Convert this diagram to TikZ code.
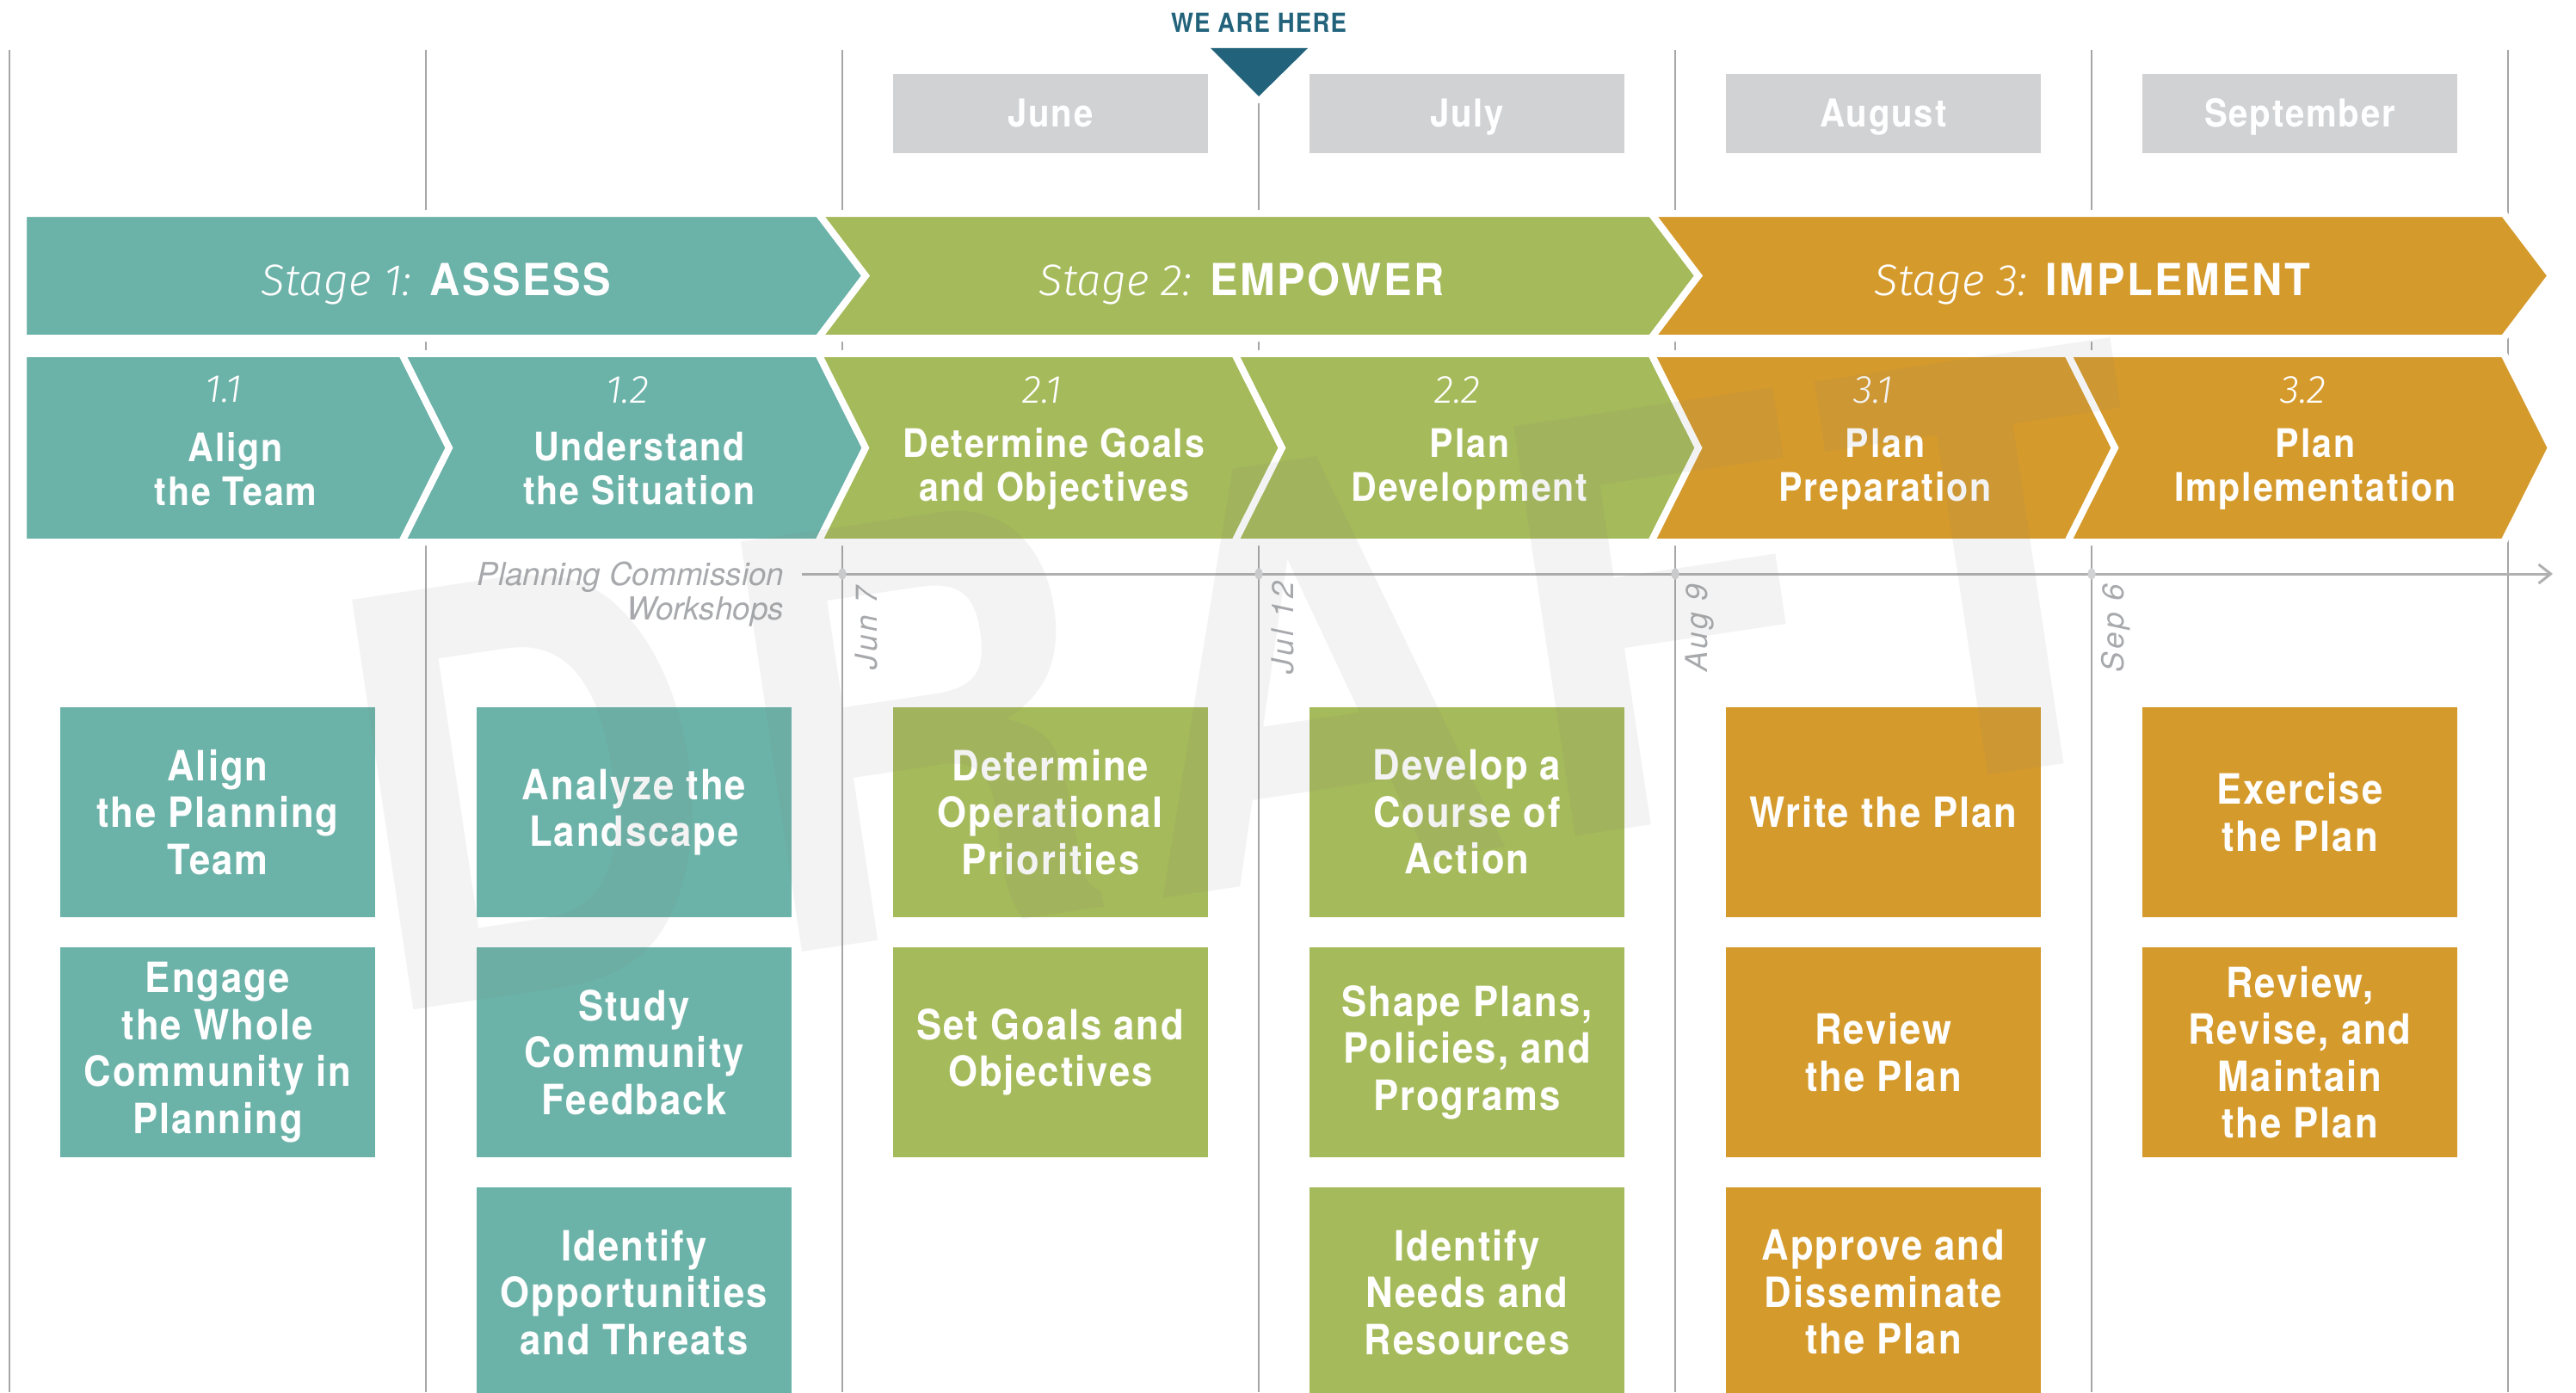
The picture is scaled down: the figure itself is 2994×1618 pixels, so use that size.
\documentclass[tikz,border=0pt]{standalone}
\usepackage{fontspec}
\usepackage{xcolor}
\setmainfont{TeX Gyre Heros}
\newfontfamily\condfont{TeX Gyre Heros}[FakeStretch=0.9, LetterSpace=4.0]
\newfontfamily\stagefont{TeX Gyre Heros}[FakeStretch=0.95, LetterSpace=5.0]
\newfontfamily\datefont{TeX Gyre Heros}[LetterSpace=10.0]
\newfontfamily\lightfont{Fira Sans}[UprightFont=* Light, ItalicFont=* Light Italic]
\usetikzlibrary{arrows.meta, shapes.geometric, positioning}

\definecolor{assess}{HTML}{6BB2A8}
\definecolor{empower}{HTML}{A5BA5A}
\definecolor{implement}{HTML}{D59A2C}
\definecolor{monthgrey}{HTML}{D1D2D4}
\definecolor{herenavy}{HTML}{22637B}
\definecolor{gridgrey}{HTML}{A6A6A6}
\definecolor{axisgrey}{HTML}{B0B0B0}
\definecolor{notegrey}{HTML}{A7A9AC}

% band arrow: left x, right x, top y, bottom y, colour, notch depth
\newcommand{\bandarrow}[6]{%
  \filldraw[fill=#5, draw=white, line width=0.8mm, line join=miter]
    (#1,#3) -- (#2,#3) -- ({#2+55},{(#3+#4)/2}) -- (#2,#4) -- (#1,#4)
    -- ({#1+#6},{(#3+#4)/2}) -- cycle;}

\begin{document}
\begin{tikzpicture}[x=0.1mm, y=-0.1mm, on grid, node distance=27.9mm,
    grid line/.style={draw=gridgrey, line width=0.2mm},
    month/.style={rectangle, fill=monthgrey, minimum width=36.6mm, minimum height=9.2mm, inner sep=0pt, text height=10pt, text depth=1.4pt, text=white, font=\condfont\bfseries\fontsize{12.7}{15}\selectfont},
    here/.style={inner sep=0pt, text=herenavy, font=\condfont\bfseries\fontsize{8.7}{10}\selectfont},
    stagetext/.style={inner sep=0pt, text=white, font=\stagefont\fontsize{14.6}{17}\selectfont},
    stepnum/.style={inner sep=0pt, text=white, font=\lightfont\itshape\fontsize{13}{15}\selectfont},
    steptitle/.style={inner sep=0pt, text=white, align=center, font=\condfont\bfseries\fontsize{13}{14.5}\selectfont},
    task/.style={rectangle, fill=#1, minimum width=36.6mm, minimum height=24.4mm, inner sep=0pt, text=white, align=center, font=\condfont\bfseries\fontsize{13.8}{15.5}\selectfont},
    marker/.style={ellipse, fill=monthgrey, minimum width=0.9mm, minimum height=1.3mm, inner sep=0pt},
    datelabel/.style={inner sep=0pt, rotate=90, text=notegrey, font=\datefont\itshape\fontsize{10}{11}\selectfont},
    note/.style={inner sep=0pt, align=right, text=notegrey, font=\itshape\fontsize{10.5}{11.4}\selectfont},
    watermark/.style={inner sep=0pt, text=gray, text opacity=0.095, font=\condfont\bfseries\fontsize{188}{188}\selectfont}]

    \useasboundingbox (0,0) rectangle (2994,1618);

    % column rules
    \draw[grid line] (11,58) -- (11,1618);
    \draw[grid line] (495,58) -- (495,1618);
    \draw[grid line] (979,58) -- (979,1618);
    \draw[grid line] (1463,120) -- (1463,1618);
    \draw[grid line] (1947,58) -- (1947,1618);
    \draw[grid line] (2431,58) -- (2431,1618);
    \draw[grid line] (2915,58) -- (2915,1618);

    % months and the current marker
    \node[month] (june) at (1221,132) {June};
    \node[month, right=48.4mm of june] (july) {July};
    \node[month, right=48.4mm of july] (august) {August};
    \node[month, right=48.4mm of august] (september) {September};

    \node[here] (here) at (1463,26) {WE ARE HERE};
    \fill[herenavy] (1407,56) -- (1520,56) -- (1463,112) -- cycle;

    % stages
    \bandarrow{27}{951}{248}{393}{assess}{0}
    \bandarrow{951}{1919}{248}{393}{empower}{55}
    \bandarrow{1919}{2910}{248}{393}{implement}{55}

    \node[stagetext] (stage1) at (507,330) {{\lightfont\itshape Stage 1:} {\bfseries ASSESS}};
    \node[stagetext] (stage2) at (1443,330) {{\lightfont\itshape Stage 2:} {\bfseries EMPOWER}};
    \node[stagetext] (stage3) at (2432,330) {{\lightfont\itshape Stage 3:} {\bfseries IMPLEMENT}};

    % steps
    \bandarrow{27}{467}{411}{630}{assess}{0}
    \bandarrow{467}{951}{411}{630}{assess}{55}
    \bandarrow{951}{1435}{411}{630}{empower}{55}
    \bandarrow{1435}{1919}{411}{630}{empower}{55}
    \bandarrow{1919}{2403}{411}{630}{implement}{55}
    \bandarrow{2403}{2910}{411}{630}{implement}{55}

    \node[stepnum] (n11) at (260,453) {1.1};
    \node[steptitle, below right=9.2mm and 1.4mm of n11] (s11) {Align\\the Team};
    \node[stepnum] (n12) at (729,453) {1.2};
    \node[steptitle, below right=9.2mm and 1.4mm of n12] (s12) {Understand\\the Situation};
    \node[stepnum] (n21) at (1211,453) {2.1};
    \node[steptitle, below right=9.2mm and 1.4mm of n21] (s21) {Determine Goals\\and Objectives};
    \node[stepnum] (n22) at (1694,453) {2.2};
    \node[steptitle, below right=9.2mm and 1.4mm of n22] (s22) {Plan\\Development};
    \node[stepnum] (n31) at (2177,453) {3.1};
    \node[steptitle, below right=9.2mm and 1.4mm of n31] (s31) {Plan\\Preparation};
    \node[stepnum] (n32) at (2677,453) {3.2};
    \node[steptitle, below right=9.2mm and 1.4mm of n32] (s32) {Plan\\Implementation};

    % workshop timeline
    \node[note, anchor=east] (workshops) at (912,691) {Planning Commission\\Workshops};
    \coordinate (axis start) at (932,667);
    \coordinate (axis end) at (2967,667);
    \draw[draw=axisgrey, line width=0.3mm, -{Straight Barb[length=1.4mm, width=2.2mm]}] (axis start) -- (axis end);

    \node[marker] (jun7) at (979,667) {};
    \node[marker] (jul12) at (1463,667) {};
    \node[marker] (aug9) at (1947,667) {};
    \node[marker] (sep6) at (2431,667) {};
    \node[datelabel, below right=6.3mm and 2.8mm of jun7] (d1) {Jun 7};
    \node[datelabel, below right=6.3mm and 2.8mm of jul12] (d2) {Jul 12};
    \node[datelabel, below right=6.3mm and 2.8mm of aug9] (d3) {Aug 9};
    \node[datelabel, below right=6.3mm and 2.8mm of sep6] (d4) {Sep 6};

    % tasks
    \node[task=assess] (t11a) at (253,944) {Align\\the Planning\\Team};
    \node[task=assess, below=of t11a] (t11b) {Engage\\the Whole\\Community in\\Planning};

    \node[task=assess] (t12a) at (737,944) {Analyze the\\Landscape};
    \node[task=assess, below=of t12a] (t12b) {Study\\Community\\Feedback};
    \node[task=assess, below=of t12b] (t12c) {Identify\\Opportunities\\and Threats};

    \node[task=empower] (t21a) at (1221,944) {Determine\\Operational\\Priorities};
    \node[task=empower, below=of t21a] (t21b) {Set Goals and\\Objectives};

    \node[task=empower] (t22a) at (1705,944) {Develop a\\Course of\\Action};
    \node[task=empower, below=of t22a] (t22b) {Shape Plans,\\Policies, and\\Programs};
    \node[task=empower, below=of t22b] (t22c) {Identify\\Needs and\\Resources};

    \node[task=implement] (t31a) at (2189,944) {Write the Plan};
    \node[task=implement, below=of t31a] (t31b) {Review\\the Plan};
    \node[task=implement, below=of t31b] (t31c) {Approve and\\Disseminate\\the Plan};

    \node[task=implement] (t32a) at (2673,944) {Exercise\\the Plan};
    \node[task=implement, below=of t32a] (t32b) {Review,\\Revise, and\\Maintain\\the Plan};

    % draft stamp over everything
    \node[watermark, rotate=8.5] (draft) at (1448,786) {DRAFT};

\end{tikzpicture}
\end{document}
